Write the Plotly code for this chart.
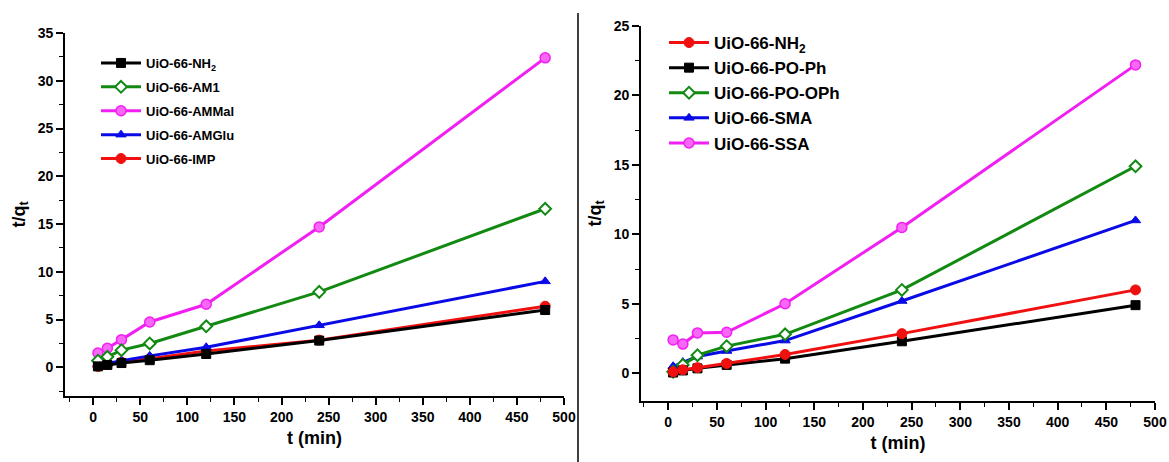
import plotly.graph_objects as go

# contact time (min)
t_min = [5, 15, 30, 60, 120, 240, 480]

# left panel: t/q_t for amide-functionalised samples
left_names = ["UiO-66-NH<sub>2</sub>", "UiO-66-AM1", "UiO-66-AMMal", "UiO-66-AMGlu", "UiO-66-IMP"]
left_nh2 = [0.1, 0.25, 0.45, 0.75, 1.4, 2.8, 6.0]
left_am1 = [0.7, 1.1, 1.8, 2.5, 4.3, 7.9, 16.6]
left_ammal = [1.5, 2.0, 2.9, 4.75, 6.6, 14.7, 32.4]
left_amglu = [0.3, 0.4, 0.7, 1.2, 2.1, 4.4, 9.0]
left_imp = [0.1, 0.3, 0.55, 0.9, 1.7, 2.85, 6.4]

# right panel: t/q_t for phosphorus / sulfur functionalised samples
right_names = ["UiO-66-NH<sub>2</sub>", "UiO-66-PO-Ph", "UiO-66-PO-OPh", "UiO-66-SMA", "UiO-66-SSA"]
right_nh2 = [0.1, 0.25, 0.4, 0.7, 1.35, 2.85, 6.0]
right_poph = [0.05, 0.2, 0.35, 0.6, 1.05, 2.3, 4.9]
right_poophh = [0.1, 0.6, 1.3, 1.95, 2.8, 6.0, 14.9]
right_sma = [0.5, 0.8, 1.2, 1.6, 2.35, 5.2, 11.0]
right_ssa = [2.4, 2.1, 2.9, 2.95, 5.0, 10.5, 22.2]

BLACK = "#000000"
GREEN = "#128a12"
MAGENTA = "#f21ff2"
BLUE = "#0a0ae6"
RED = "#f01010"

styles = {
    "square": dict(symbol="square", color=BLACK, line=dict(color=BLACK, width=1)),
    "diamond": dict(symbol="diamond", color="white", line=dict(color=GREEN, width=2)),
    "sphere": dict(symbol="circle", color="#f768f7", line=dict(color=MAGENTA, width=1.5)),
    "triangle": dict(symbol="triangle-up", color=BLUE, line=dict(color=BLUE, width=1)),
    "circle": dict(symbol="circle", color=RED, line=dict(color=RED, width=1)),
}

fig = go.Figure()


def add(y, name, color, marker, xa, ya, legend, order):
    m = dict(styles[marker])
    m["size"] = 10 if marker in ("circle", "sphere") else 9
    fig.add_trace(go.Scatter(
        x=t_min, y=y, name=name, mode="lines+markers",
        line=dict(color=color, width=3),
        marker=m, xaxis=xa, yaxis=ya, legend=legend,
        legendgroup=f"{legend}{order}", legendrank=order,
    ))


left_series = [
    (left_nh2, BLACK, "square"),
    (left_am1, GREEN, "diamond"),
    (left_ammal, MAGENTA, "sphere"),
    (left_amglu, BLUE, "triangle"),
    (left_imp, RED, "circle"),
]
right_series = [
    (right_nh2, RED, "circle"),
    (right_poph, BLACK, "square"),
    (right_poophh, GREEN, "diamond"),
    (right_sma, BLUE, "triangle"),
    (right_ssa, MAGENTA, "sphere"),
]
# draw in reverse so the first legend entry sits on top of the stack
for i, (y, c, mk) in reversed(list(enumerate(left_series))):
    add(y, left_names[i], c, mk, "x", "y", "legend", i + 1)
for i, (y, c, mk) in reversed(list(enumerate(right_series))):
    add(y, right_names[i], c, mk, "x2", "y2", "legend2", i + 1)

W, H = 1169, 462


def fx(px):
    return px / W


def fy(py):
    return 1 - py / H


FONT = "Liberation Sans, Arial, sans-serif"
tick_font = dict(family=FONT, size=14, color="black", weight="bold")
title_font = dict(family=FONT, size=18, color="black", weight="bold")


def xaxis(domain, anchor, rng):
    return dict(
        domain=domain, anchor=anchor, range=rng, tick0=0, dtick=50, automargin=False,
        showline=True, linecolor="black", linewidth=1.6, ticks="outside",
        ticklen=7, tickwidth=1.6, tickcolor="black", showgrid=False, zeroline=False,
        minor=dict(ticks="outside", ticklen=4, tickwidth=1.4, tickcolor="black", dtick=25, tick0=0),
        tickfont=tick_font, title=dict(text="t (min)", font=title_font, standoff=8),
    )


def yaxis(domain, anchor, rng):
    return dict(
        domain=domain, anchor=anchor, range=rng, tick0=0, dtick=5, automargin=False,
        showline=True, linecolor="black", linewidth=1.6, ticks="outside",
        ticklen=7, tickwidth=1.6, tickcolor="black", showgrid=False, zeroline=False,
        minor=dict(ticks="outside", ticklen=4, tickwidth=1.4, tickcolor="black", dtick=2.5, tick0=0),
        tickfont=tick_font, title=dict(text="t/q<sub>t</sub>", font=title_font, standoff=8),
    )


fig.update_layout(
    width=W, height=H,
    margin=dict(l=0, r=0, t=0, b=0, autoexpand=False),
    paper_bgcolor="white", plot_bgcolor="white",
    xaxis=xaxis([fx(65), fx(564)], "y", [-30, 500]),
    yaxis=yaxis([fy(396), fy(33)], "x", [-3, 35]),
    xaxis2=xaxis([fx(641), fx(1155)], "y2", [-28, 500]),
    yaxis2=yaxis([fy(401), fy(26)], "x2", [-2, 25]),
    legend=dict(
        x=fx(96), y=fy(48), xanchor="left", yanchor="top",
        bgcolor="rgba(0,0,0,0)", font=dict(family=FONT, size=13, color="black", weight="bold"),
        tracegroupgap=4, itemwidth=40,
    ),
    legend2=dict(
        x=fx(664), y=fy(25), xanchor="left", yanchor="top",
        bgcolor="rgba(0,0,0,0)", font=dict(family=FONT, size=17, color="black", weight="bold"),
        tracegroupgap=0, itemwidth=40,
    ),
    shapes=[dict(type="line", xref="paper", yref="paper",
                 x0=fx(578), x1=fx(578), y0=0, y1=fy(13),
                 line=dict(color="black", width=1.5))],
    showlegend=True,
)

fig.write_html("out.html")
